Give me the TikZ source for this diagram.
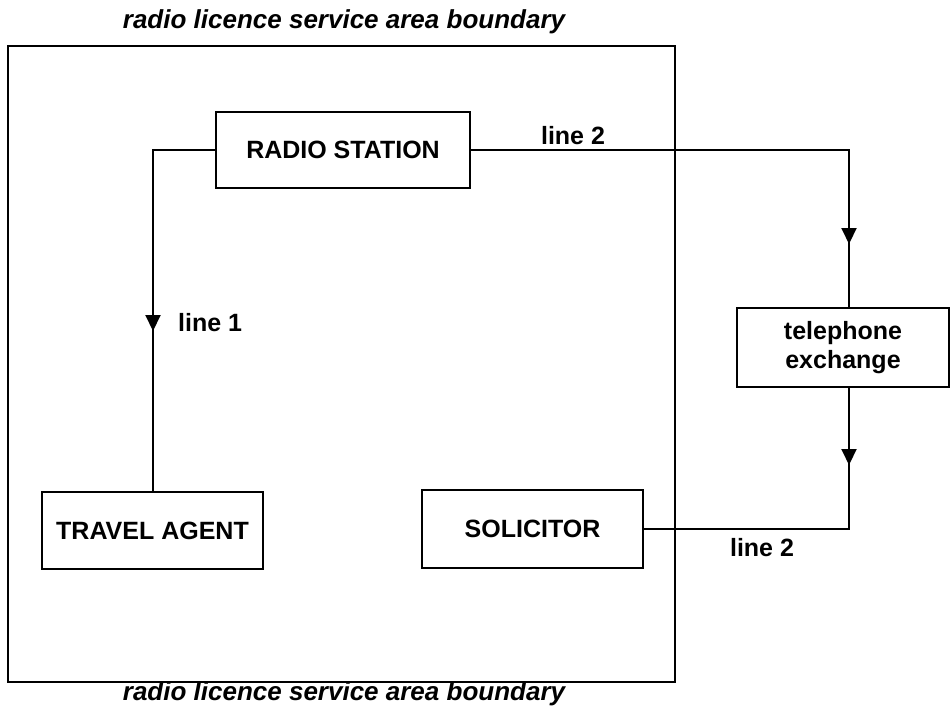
\documentclass[tikz,border=0pt]{standalone}
\usepackage{fontspec}
\setmainfont{Liberation Sans}
\usetikzlibrary{arrows.meta,decorations.markings}
\tikzset{
  box/.style={draw, line width=2pt, inner sep=0pt, align=center,
    font=\fontsize{25}{29}\selectfont\bfseries},
  lbl/.style={inner sep=0pt, font=\fontsize{25}{29}\selectfont\bfseries},
  ital/.style={inner sep=0pt, font=\fontsize{26}{30}\selectfont\bfseries\itshape},
  conn/.style={line width=2pt},
  midarrow/.style={postaction={decorate}, decoration={markings,
    mark=at position #1 with {\arrow{Triangle[width=15pt,length=16pt]}}}}
}
\begin{document}
\begin{tikzpicture}[x=1pt,y=-1pt]
\useasboundingbox (0,0) rectangle (952,710);
% boundary
\draw[line width=2.5pt] (8,46) rectangle (675,682);
\node[ital] (toplbl) at (344,22) {radio licence service area boundary};
\node[ital] (botlbl) at (344,694) {radio licence service area boundary};
% boxes
\node[box, minimum width=254pt, minimum height=76pt] (radio) at (343,150) {RADIO STATION};
\node[box, minimum width=221pt, minimum height=77pt] (travel) at (152.5,530.5) {TRAVEL AGENT};
\node[box, minimum width=221pt, minimum height=78pt] (sol) at (532.5,529) {SOLICITOR};
\node[box, minimum width=212pt, minimum height=79pt] (tel) at (843,347.5) {telephone\\exchange};
% columns
\coordinate (lx) at (153,0);
\coordinate (rx) at (849,0);
% connectors
\draw[conn, midarrow=243pt] (radio.west) -| (lx |- travel.north);
\draw[conn, midarrow=472pt] (radio.east) -| (rx |- tel.north);
\draw[conn, midarrow=77pt] (rx |- tel.south) |- (sol.east);
% labels
\node[lbl, anchor=west] (l1) at (178,323) {line 1};
\node[lbl] (l2a) at (573,136) {line 2};
\node[lbl] (l2b) at (762,548) {line 2};
\end{tikzpicture}
\end{document}
